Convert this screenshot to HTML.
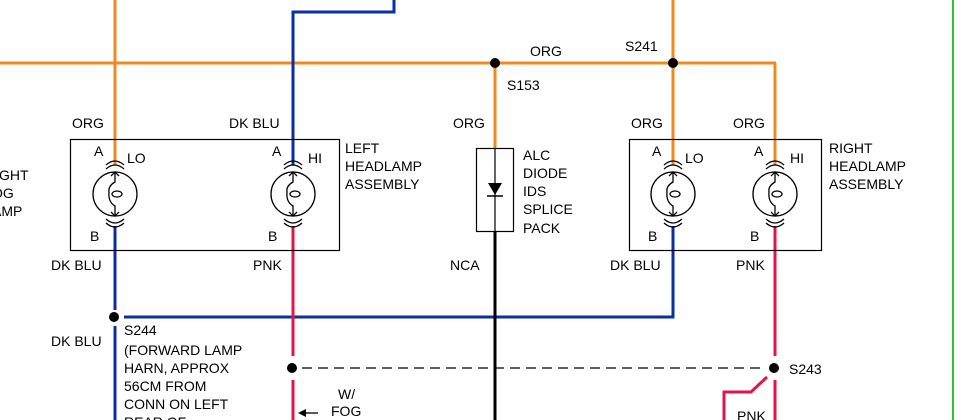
<!DOCTYPE html>
<html><head><style>
html,body{margin:0;padding:0;background:#fff;}
svg{display:block;}
text{font-family:"Liberation Sans",sans-serif;font-size:14px;fill:#000;}
</style></head><body>
<svg width="979" height="420" viewBox="0 0 979 420" xmlns="http://www.w3.org/2000/svg">
<defs>
<g id="lamp" fill="none" stroke="#000" stroke-width="1.3">
  <circle cx="0" cy="0" r="22"/>
  <path d="M-9,-29 Q0,-37 9,-29"/>
  <path d="M-9,-25 Q0,-33 9,-25"/>
  <path d="M-9,29 Q0,37 9,29"/>
  <path d="M-9,25 Q0,33 9,25"/>
  <path d="M0,-22 L0,-12 Q-7,-8 -6,-2 Q-7,8 0,12 L0,22"/>
  <path d="M-4,-18 L0,-22 L4,-18 M-4,18 L0,22 L4,18"/>
  <ellipse cx="2" cy="0" rx="5" ry="3"/>
</g>
</defs>
<!-- green border -->
<line x1="953" y1="0" x2="953" y2="420" stroke="#22cc22" stroke-width="2"/>
<!-- orange -->
<g stroke="#f0891e" stroke-width="3" fill="none">
  <line x1="0" y1="63" x2="776" y2="63"/>
  <line x1="115" y1="0" x2="115" y2="165"/>
  <line x1="495" y1="63" x2="495" y2="148"/>
  <line x1="673" y1="0" x2="673" y2="165"/>
  <line x1="775" y1="63" x2="775" y2="165"/>
</g>
<!-- blue -->
<g stroke="#0a2fa0" stroke-width="3" fill="none">
  <polyline points="394,0 394,12 293,12 293,165"/>
  <line x1="115" y1="226" x2="115" y2="310"/>
  <line x1="115" y1="326" x2="115" y2="420"/>
  <polyline points="124,317 673,317 673,226"/>
</g>
<!-- pink -->
<g stroke="#e0154a" stroke-width="3" fill="none">
  <line x1="293" y1="226" x2="293" y2="356"/>
  <line x1="293" y1="380" x2="293" y2="420"/>
  <line x1="775" y1="226" x2="775" y2="356"/>
  <line x1="775" y1="380" x2="775" y2="420"/>
  <polyline points="767,377 751,392 724,392 724,420"/>
</g>
<!-- black -->
<line x1="495" y1="232" x2="495" y2="420" stroke="#000" stroke-width="3"/>
<line x1="302" y1="368" x2="766" y2="368" stroke="#000" stroke-width="1.3" stroke-dasharray="10,6"/>
<!-- boxes -->
<rect x="70.5" y="139.5" width="269" height="111" fill="none" stroke="#000" stroke-width="1.2"/>
<rect x="629.5" y="139.5" width="192" height="111" fill="none" stroke="#000" stroke-width="1.2"/>
<rect x="476.5" y="148.5" width="37" height="83" fill="none" stroke="#000" stroke-width="1.2"/>
<line x1="495" y1="148" x2="495" y2="232" stroke="#000" stroke-width="1.2"/>
<polygon points="488,183 502,183 495,195" fill="#000"/>
<line x1="487" y1="196" x2="503" y2="196" stroke="#000" stroke-width="1.5"/>
<!-- lamps -->
<rect x="95" y="166" width="40" height="58" fill="#fff"/>
<rect x="273" y="166" width="40" height="58" fill="#fff"/>
<rect x="653" y="166" width="40" height="58" fill="#fff"/>
<rect x="755" y="166" width="40" height="58" fill="#fff"/>
<use href="#lamp" x="115" y="194"/>
<use href="#lamp" x="293" y="194"/>
<use href="#lamp" x="673" y="194"/>
<use href="#lamp" x="775" y="194"/>
<!-- dots -->
<g fill="#000">
  <circle cx="495" cy="63" r="5"/>
  <circle cx="673" cy="63" r="5"/>
  <circle cx="114" cy="317" r="5"/>
  <circle cx="292" cy="368" r="5"/>
  <circle cx="774" cy="368" r="5"/>
</g>
<!-- arrow -->
<line x1="304" y1="413" x2="318" y2="413" stroke="#000" stroke-width="1.3"/>
<polygon points="298,413 306,409 306,417" fill="#000"/>
<!-- labels -->
<text x="72" y="128">ORG</text>
<text x="229" y="128">DK BLU</text>
<text x="453" y="128">ORG</text>
<text x="631" y="128">ORG</text>
<text x="733" y="128">ORG</text>
<text x="530" y="56">ORG</text>
<text x="625" y="51">S241</text>
<text x="507" y="90">S153</text>
<text x="94" y="156">A</text><text x="127" y="163">LO</text>
<text x="272" y="156">A</text><text x="308" y="163">HI</text>
<text x="652" y="156">A</text><text x="685" y="163">LO</text>
<text x="754" y="156">A</text><text x="790" y="163">HI</text>
<text x="90" y="241">B</text><text x="268" y="241">B</text>
<text x="648" y="241">B</text><text x="750" y="241">B</text>
<text x="345" y="153">LEFT</text><text x="345" y="171">HEADLAMP</text><text x="345" y="189">ASSEMBLY</text>
<text x="829" y="153">RIGHT</text><text x="829" y="171">HEADLAMP</text><text x="829" y="189">ASSEMBLY</text>
<text x="-1" y="180">GHT</text><text x="-8" y="198">OG</text><text x="-8" y="216">AMP</text>
<text x="523" y="160">ALC</text><text x="523" y="178">DIODE</text><text x="523" y="196">IDS</text><text x="523" y="214">SPLICE</text><text x="523" y="233">PACK</text>
<text x="51" y="270">DK BLU</text>
<text x="253" y="270">PNK</text>
<text x="450" y="270">NCA</text>
<text x="610" y="270">DK BLU</text>
<text x="736" y="270">PNK</text>
<text x="51" y="346">DK BLU</text>
<text x="124" y="335">S244</text>
<text x="124" y="355">(FORWARD LAMP</text>
<text x="124" y="373">HARN, APPROX</text>
<text x="124" y="391">56CM FROM</text>
<text x="124" y="409">CONN ON LEFT</text>
<text x="124" y="427">REAR OF</text>
<text x="338" y="399">W/</text>
<text x="331" y="416">FOG</text>
<text x="789" y="374">S243</text>
<text x="737" y="421">PNK</text>
</svg>
</body></html>
